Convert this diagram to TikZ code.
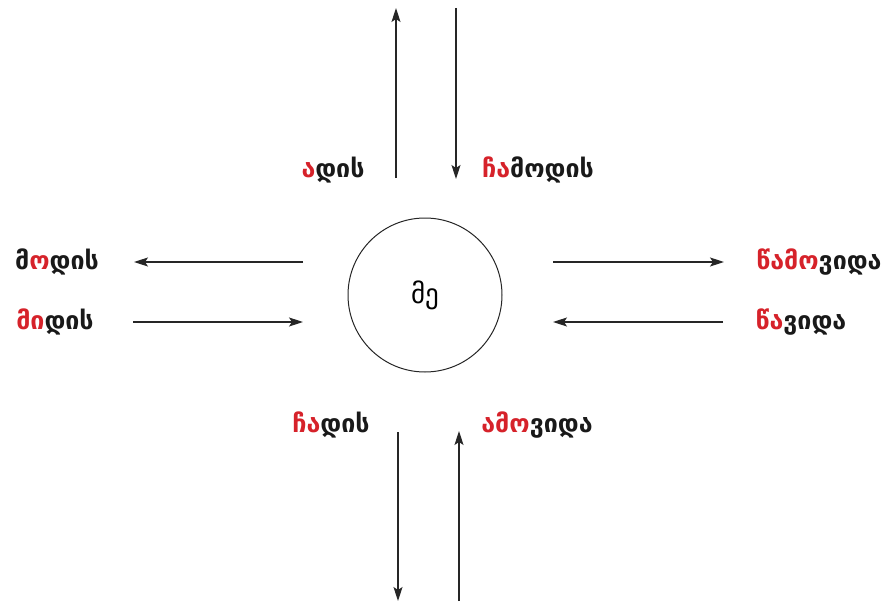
\documentclass[tikz,border=0pt]{standalone}
\usepackage{fontspec}
\setmainfont{DejaVu Sans}
\usetikzlibrary{arrows.meta}
\definecolor{geored}{RGB}{214,34,42}
\newcommand{\R}[1]{\textcolor{geored}{#1}}
\begin{document}
\begin{tikzpicture}[x=1pt,y=-1pt,
  lbl/.style={font=\fontsize{25}{28}\selectfont\bfseries, inner sep=0pt, anchor=center, text=black!90},
  arr/.style={draw=black!85, line width=1.3pt, -{Stealth[length=14pt,width=9pt,inset=3pt]}}]
\useasboundingbox (0,0) rectangle (892,602);
\node[draw=black!85, line width=1pt, circle, minimum size=154pt, inner sep=0pt] (me) at (425,295) {\fontsize{27}{30}\selectfont მე};
% top
\coordinate (t1s) at (396,178); \coordinate (t1e) at (396,8);
\coordinate (t2s) at (456,8); \coordinate (t2e) at (456,179);
\draw[arr] (t1s) -- (t1e);
\draw[arr] (t2s) -- (t2e);
\node[lbl] (adis) at (333,170) {\R{ა}დის};
\node[lbl] (chamodis) at (538,170) {\R{ჩა}მოდის};
% left
\coordinate (l1s) at (303,262); \coordinate (l1e) at (134,262);
\coordinate (l2s) at (133,322); \coordinate (l2e) at (303,322);
\draw[arr] (l1s) -- (l1e);
\draw[arr] (l2s) -- (l2e);
\node[lbl] (modis) at (57,262) {მ\R{ო}დის};
\node[lbl] (midis) at (55,322) {\R{მი}დის};
% right
\coordinate (r1s) at (553,262); \coordinate (r1e) at (724,262);
\coordinate (r2s) at (723,322); \coordinate (r2e) at (553,322);
\draw[arr] (r1s) -- (r1e);
\draw[arr] (r2s) -- (r2e);
\node[lbl] (tsamovida) at (819,262) {\R{წამო}ვიდა};
\node[lbl] (tsavida) at (801,322) {\R{წა}ვიდა};
% bottom
\coordinate (b1s) at (398,432); \coordinate (b1e) at (398,601);
\coordinate (b2s) at (459,601); \coordinate (b2e) at (459,431);
\draw[arr] (b1s) -- (b1e);
\draw[arr] (b2s) -- (b2e);
\node[lbl] (chadis) at (331,425) {\R{ჩა}დის};
\node[lbl] (amovida) at (537,425) {\R{ამო}ვიდა};
\end{tikzpicture}
\end{document}
